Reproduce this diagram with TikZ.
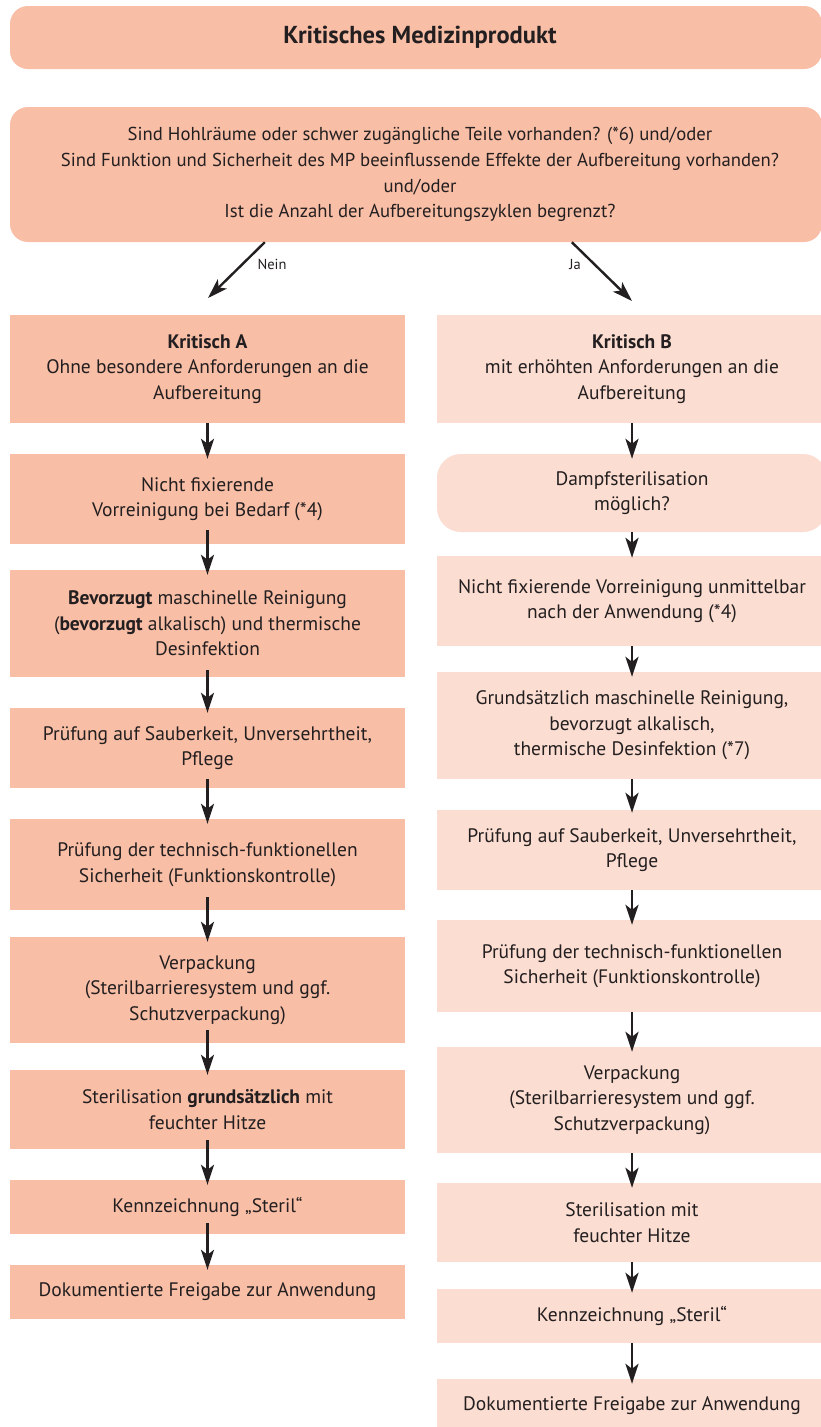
\documentclass[tikz,border=0pt]{standalone}
\usepackage{fontspec}
\setmainfont{PT Sans}
\usetikzlibrary{arrows.meta}
\definecolor{salmon}{RGB}{249,190,166}
\definecolor{light}{RGB}{252,221,209}
\definecolor{ink}{RGB}{35,31,32}
\begin{document}
\begin{tikzpicture}[x=1pt,y=-1pt,
  boxbase/.style={draw=none, inner sep=0pt, align=center, text=ink,
    font=\fontsize{19.5}{25.5}\selectfont},
  boxA/.style={boxbase, fill=salmon, minimum width=395pt},
  boxB/.style={boxbase, fill=light, minimum width=390pt},
  bigbox/.style={boxbase, fill=salmon, minimum width=812pt, rounded corners=18pt},
  arr/.style={line width=2.4pt, draw=ink, -{Stealth[length=20pt,width=13pt,inset=5pt]}},
  lbl/.style={text=ink, font=\fontsize{14.5}{16}\selectfont, inner sep=0pt}
]
\useasboundingbox (0,0) rectangle (821,1427);
\fill[white] (0,0) rectangle (821,1427);
\clip (0,0) rectangle (821,1427);

% top
\node[bigbox, minimum height=63pt, font=\fontsize{24.5}{28}\selectfont\bfseries] (title) at (416,37.5) {\hspace{8pt}Kritisches Medizinprodukt};
\node[bigbox, minimum height=135pt, font=\fontsize{18.7}{25.7}\selectfont] (q) at (416,174.5)
 {\hspace{8pt}Sind Hohlräume oder schwer zugängliche Teile vorhanden? (*6) und/oder\\
  \hspace{8pt}Sind Funktion und Sicherheit des MP beeinflussende Effekte der Aufbereitung vorhanden?\\
  \hspace{8pt}und/oder\\
  \hspace{8pt}Ist die Anzahl der Aufbereitungszyklen begrenzt?};

% left column
\node[boxA, minimum height=108pt] (a1) at (207.5,369) {\textbf{Kritisch A}\\Ohne besondere Anforderungen an die\\Aufbereitung};
\node[boxA, minimum height=90pt] (a2) at (207.5,499) {Nicht fixierende\\Vorreinigung bei Bedarf (*4)};
\node[boxA, minimum height=107pt] (a3) at (207.5,623.5) {\textbf{Bevorzugt} maschinelle Reinigung\\(\textbf{bevorzugt} alkalisch) und thermische\\Desinfektion};
\node[boxA, minimum height=80pt] (a4) at (207.5,748) {Prüfung auf Sauberkeit, Unversehrtheit,\\Pflege};
\node[boxA, minimum height=91pt] (a5) at (207.5,864.5) {Prüfung der technisch-funktionellen\\Sicherheit (Funktionskontrolle)};
\node[boxA, minimum height=106pt] (a6) at (207.5,990) {Verpackung\\(Sterilbarrieresystem und ggf.\\Schutzverpackung)};
\node[boxA, minimum height=79pt] (a7) at (207.5,1109.5) {Sterilisation \textbf{grundsätzlich} mit\\feuchter Hitze};
\node[boxA, minimum height=54pt] (a8) at (207.5,1207) {Kennzeichnung „Steril“};
\node[boxA, minimum height=54pt] (a9) at (207.5,1292) {Dokumentierte Freigabe zur Anwendung};

% right column
\node[boxB, minimum height=108pt] (b1) at (632,369) {\textbf{Kritisch B}\\mit erhöhten Anforderungen an die\\Aufbereitung};
\node[boxB, minimum height=78pt, rounded corners=24pt] (b2) at (632,493) {Dampfsterilisation\\möglich?};
\node[boxB, minimum height=90pt] (b3) at (632,601) {Nicht fixierende Vorreinigung unmittelbar\\nach der Anwendung (*4)};
\node[boxB, minimum height=107pt] (b4) at (632,725.5) {Grundsätzlich maschinelle Reinigung,\\bevorzugt alkalisch,\\thermische Desinfektion (*7)};
\node[boxB, minimum height=80pt] (b5) at (632,850) {Prüfung auf Sauberkeit, Unversehrtheit,\\Pflege};
\node[boxB, minimum height=92pt] (b6) at (632,966) {Prüfung der technisch-funktionellen\\Sicherheit (Funktionskontrolle)};
\node[boxB, minimum height=106pt] (b7) at (632,1100) {Verpackung\\(Sterilbarrieresystem und ggf.\\Schutzverpackung)};
\node[boxB, minimum height=79pt] (b8) at (632,1222.5) {Sterilisation mit\\feuchter Hitze};
\node[boxB, minimum height=54pt] (b9) at (632,1316) {Kennzeichnung „Steril“};
\node[boxB, minimum height=54pt] (b10) at (632,1406) {Dokumentierte Freigabe zur Anwendung};

% branch arrows
\coordinate (neinEnd) at (208,298);
\coordinate (jaEnd) at (632,301);
\draw[arr] ([xshift=255pt]q.south west) -- (neinEnd);
\draw[arr] ([xshift=562pt]q.south west) -- (jaEnd);
\node[lbl] (nein) at (272,264) {Nein};
\node[lbl] (ja) at (575,264) {Ja};

% left arrows
\draw[arr] (a1.south) -- ([yshift=-5pt]a2.north);
\draw[arr] ([yshift=14pt]a2.south) -- ([yshift=-5pt]a3.north);
\draw[arr] ([yshift=7pt]a3.south) -- ([yshift=-5pt]a4.north);
\draw[arr] ([yshift=9pt]a4.south) -- ([yshift=-5pt]a5.north);
\draw[arr] ([yshift=13pt]a5.south) -- ([yshift=-5pt]a6.north);
\draw[arr] ([yshift=13pt]a6.south) -- ([yshift=-5pt]a7.north);
\draw[arr] ([yshift=9pt]a7.south) -- ([yshift=-5pt]a8.north);
\draw[arr] ([yshift=11pt]a8.south) -- ([yshift=-5pt]a9.north);

% right arrows
\draw[arr] (b1.south) -- ([yshift=-5pt]b2.north);
\draw[arr] (b2.south) -- ([yshift=-2pt]b3.north);
\draw[arr] (b3.south) -- ([yshift=-5pt]b4.north);
\draw[arr] (b4.south) -- ([yshift=-3pt]b5.north);
\draw[arr] (b5.south) -- ([yshift=-5pt]b6.north);
\draw[arr] (b6.south) -- ([yshift=-5pt]b7.north);
\draw[arr] (b7.south) -- ([yshift=-5pt]b8.north);
\draw[arr] (b8.south) -- ([yshift=-4pt]b9.north);
\draw[arr] (b9.south) -- ([yshift=-5pt]b10.north);
\end{tikzpicture}
\end{document}
